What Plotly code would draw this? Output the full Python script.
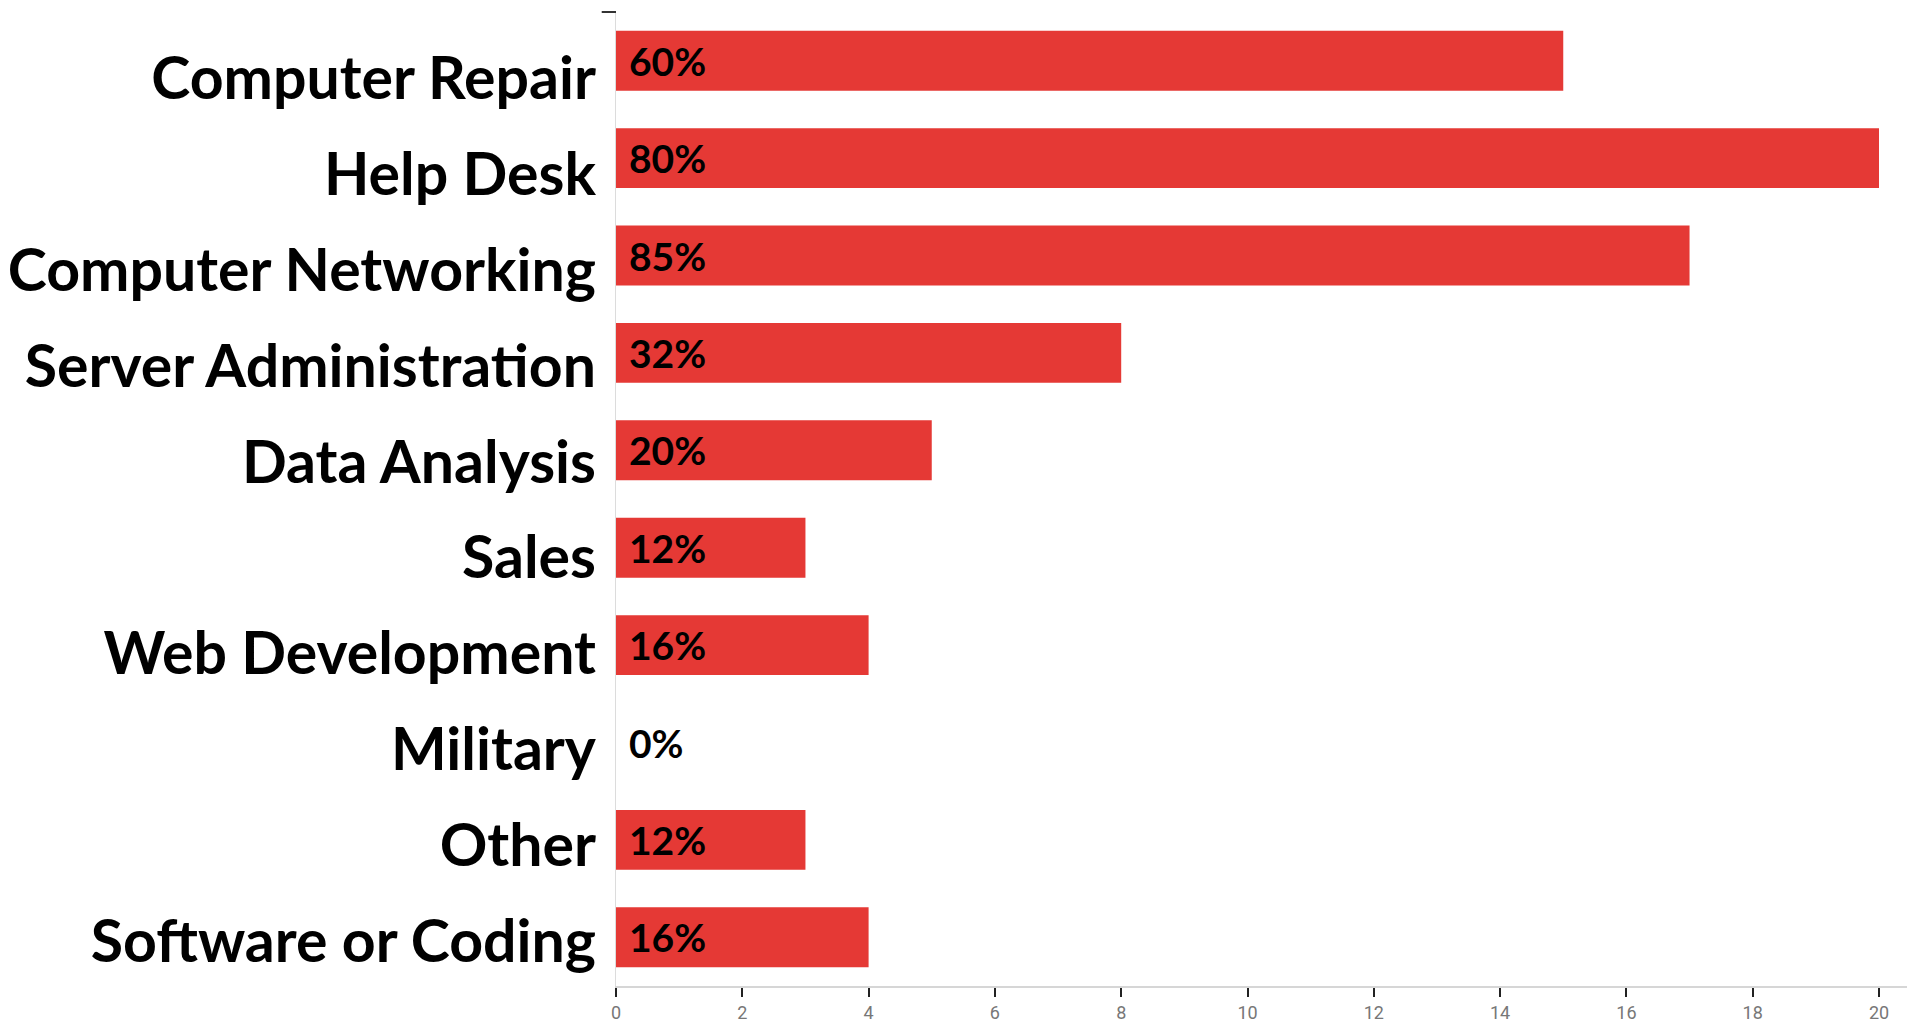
import plotly.graph_objects as go

categories = ["Computer Repair", "Help Desk", "Computer Networking", "Server Administration",
              "Data Analysis", "Sales", "Web Development", "Military", "Other", "Software or Coding"]
counts = [15, 20, 17, 8, 5, 3, 4, 0, 3, 4]
pct_labels = ["60%", "80%", "85%", "32%", "20%", "12%", "16%", "0%", "12%", "16%"]
x_ticks = [0, 2, 4, 6, 8, 10, 12, 14, 16, 18, 20]

BAR_RED = "#e53935"
LABEL_FONT = "Lato"

fig = go.Figure(go.Bar(
    x=counts,
    y=categories,
    orientation="h",
    marker=dict(color=BAR_RED, line=dict(width=0)),
    width=0.615,
    hoverinfo="skip",
))

# invisible helper trace so the overlay axis carrying the category names gets drawn
fig.add_trace(go.Scatter(
    x=[0] * len(categories),
    y=list(range(len(categories))),
    yaxis="y2",
    mode="markers",
    marker=dict(opacity=0, size=1),
    hoverinfo="skip",
))

# percent labels sit at the base of each bar (also for the empty Military row)
for cat, lab in zip(categories, pct_labels):
    fig.add_annotation(
        x=0, y=cat, text=lab, showarrow=False,
        xanchor="left", yanchor="middle", xshift=11,
        font=dict(family=LABEL_FONT, size=39, color="black", weight="bold"),
    )

# little dash at the top of the y axis
fig.add_shape(type="line", xref="paper", yref="paper",
              x0=-0.011, x1=0, y0=1.0, y1=1.0,
              line=dict(color="#333", width=2))

# the page body keeps its default 8px margin, so the figure is 8px smaller
fig.update_layout(
    width=1907,
    height=1017,
    margin=dict(l=608, r=0, t=4, b=39, pad=0),
    paper_bgcolor="white",
    plot_bgcolor="white",
    showlegend=False,
    bargap=0.385,
    xaxis=dict(
        range=[0, 20.57],
        tickvals=x_ticks,
        automargin=False,
        showgrid=False,
        zeroline=False,
        showline=True,
        linecolor="#d6d6d6",
        linewidth=2,
        ticks="outside",
        ticklen=9,
        tickwidth=2,
        tickcolor="#222",
        tickfont=dict(family="Liberation Sans Narrow, Roboto", size=18, color="#777"),
    ),
    yaxis=dict(
        categoryorder="array",
        categoryarray=categories,
        autorange="reversed",
        automargin=False,
        showgrid=False,
        zeroline=False,
        showline=True,
        linecolor="#dcdcdc",
        linewidth=1,
        ticks="",
        showticklabels=False,
    ),
    # category names go on an overlay axis: in the original they sit slightly
    # tighter than the bars, drifting lower toward the top
    yaxis2=dict(
        overlaying="y",
        side="left",
        anchor="x",
        range=[9.471, -0.696],
        tickvals=list(range(len(categories))),
        ticktext=categories,
        automargin=False,
        showgrid=False,
        zeroline=False,
        showline=False,
        ticks="",
        ticklabelstandoff=19,
        tickfont=dict(family=LABEL_FONT, size=59, color="black", weight="bold"),
    ),
)

fig.write_html("out.html")
